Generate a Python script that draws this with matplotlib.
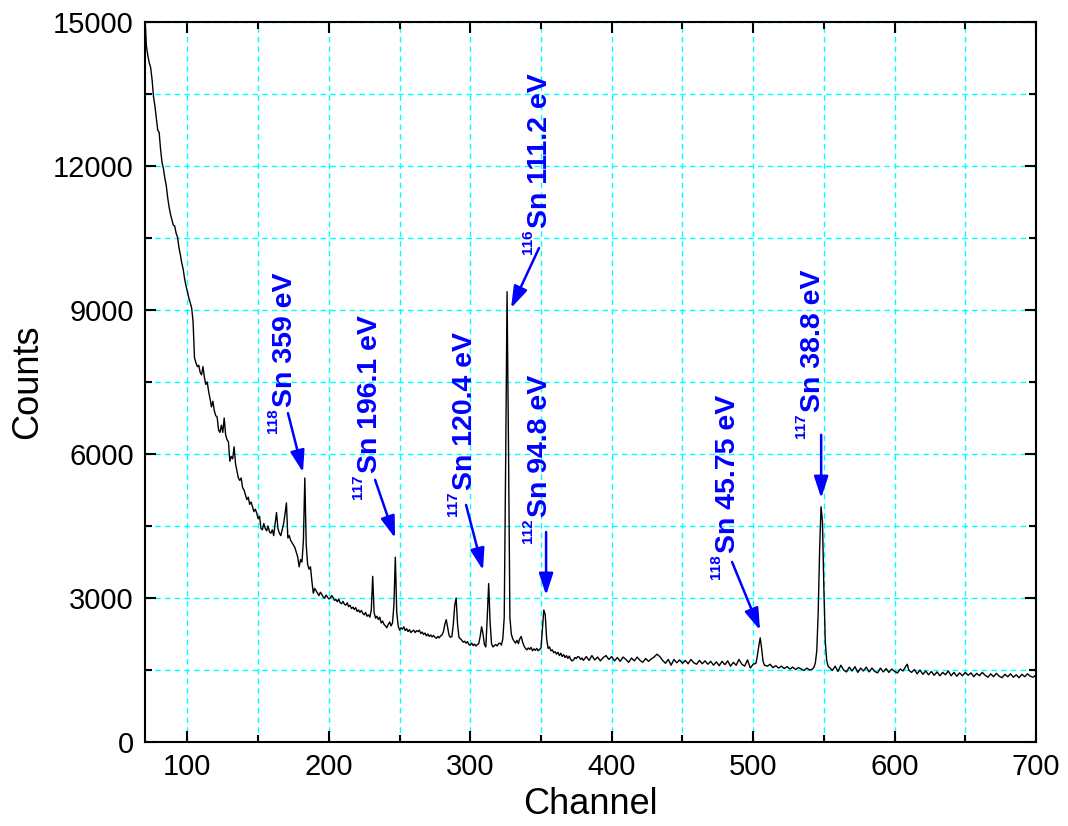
import matplotlib
matplotlib.use("Agg")
import matplotlib.pyplot as plt
from matplotlib.ticker import MultipleLocator

# spectrum
channel = [
    70, 71, 72, 73, 74, 75, 76, 77, 78, 79, 80, 81, 82, 83, 84, 85, 86, 87, 88, 89,
    90, 91, 92, 93, 94, 95, 96, 97, 98, 99, 100, 101, 102, 103, 104,
    105, 106, 107, 108, 109, 110, 111, 112, 113, 114, 115, 116, 117, 118, 119,
    120, 121, 122, 123, 124, 125, 126, 127, 128, 129, 130, 131, 132, 133, 134,
    135, 136, 137, 138, 139, 140, 141, 142, 143, 144, 145, 146, 147, 148, 149,
    150, 151, 152, 153, 154, 155, 156, 157, 158, 159, 160, 161, 162, 163, 164,
    165, 166, 167, 168, 169, 170, 171, 172, 173, 174, 175, 176, 177, 178, 179,
    180, 181, 182, 183, 184, 185, 186, 187, 188, 189, 190,
    191, 192, 193, 194, 195, 196, 197, 198, 199, 200, 201, 202, 203, 204, 205,
    206, 207, 208, 209, 210, 211, 212, 213, 214, 215, 216, 217, 218, 219, 220,
    221, 222, 223, 224, 225, 226, 227, 228, 229, 230, 231, 232, 233, 234, 235,
    236, 237, 238, 239, 240, 241, 242, 243, 244, 245, 246, 247, 248, 249, 250,
    251, 252, 253, 254, 255, 256, 257, 258, 259, 260,
    261, 262, 263, 264, 265, 266, 267, 268, 269, 270, 271, 272, 273, 274, 275,
    276, 277, 278, 279, 280, 281, 282, 283, 284, 285, 286, 287, 288, 289, 290,
    291, 292, 293, 294, 295, 296, 297, 298, 299, 300, 301, 302, 303, 304, 305,
    306, 307, 308, 309, 310, 311, 312, 313, 314, 315, 316, 317, 318, 319, 320,
    321, 322, 323, 324, 325, 326, 327, 328, 329, 330,
    331, 332, 333, 334, 335, 336, 337, 338, 339, 340, 341, 342, 343, 344, 345,
    346, 347, 348, 349, 350, 351, 352, 353, 354, 355, 356, 357, 358, 359, 360,
    361, 362, 363, 364, 365, 366, 367, 368, 369, 370, 371, 372, 373, 374, 375,
    376, 377, 378, 379, 380,
    382, 384, 386, 388, 390, 392, 394, 396, 398, 400, 402, 404, 406, 408, 410,
    412, 414, 416, 418, 420, 422, 424, 426, 428, 430, 432, 434, 436, 438, 440,
    442, 444, 446, 448, 450, 452, 454, 456, 458, 460, 462, 464, 466, 468, 470,
    472, 474, 476, 478, 480, 482, 484, 486, 488, 490, 492, 494, 496, 498, 500,
    502, 503, 504, 505, 506, 507, 508, 510, 512, 514, 516, 518, 520, 522, 524,
    526, 528, 530, 532, 534, 536, 538, 540, 542, 543, 544, 545, 546, 547, 548,
    549, 550, 551, 552, 553, 554, 556, 558, 560, 562, 564, 566, 568, 570, 572,
    574, 576, 578, 580, 582, 584, 586, 588, 590, 592, 594, 596, 598, 600, 602,
    604, 606, 608, 609, 610, 612, 614, 616, 618, 620, 622, 624, 626, 628, 630,
    632, 634, 636, 638, 640, 642, 644, 646, 648, 650, 652, 654, 656, 658, 660,
    662, 664, 666, 668, 670, 672, 674, 676, 678, 680, 682, 684, 686, 688, 690,
    692, 694, 696, 698, 700,
]
counts = [
    15100, 14500, 14300, 14150, 14050, 13800, 13450, 13250, 13000, 12750, 12700, 12350,
    12080, 11950, 11750, 11600, 11350, 11150, 11000, 10880,
    10770, 10750, 10600, 10520, 10300, 10150, 9980, 9850, 9650, 9500, 9380, 9250, 9150,
    9040, 8750,
    8000, 7900, 7820, 7850, 7700, 7650, 7820, 7600, 7450, 7500, 7300, 7150, 6980, 7100, 6900,
    6800, 6770, 6500, 6450, 6600, 6450, 6750, 6400, 6300, 6250, 5850, 5950, 5900, 6150, 5800,
    5650, 5500, 5450, 5500, 5300, 5250, 5150, 5050, 5100, 4950, 5000, 4900, 4800, 4850, 4770,
    4650, 4700, 4450, 4420, 4550, 4450, 4400, 4500, 4380, 4350, 4420, 4300, 4550, 4780, 4450,
    4350, 4300, 4420, 4550, 4750, 4980, 4250, 4300, 4200, 4150, 4100, 4050, 3950, 3850, 3650,
    3800, 3750, 4200, 5500, 4100, 3700, 3600, 3650, 3350, 3100, 3200,
    3150, 3100, 3050, 3120, 3080, 3020, 3000, 3060, 3020, 2980, 3000, 3050, 3010, 2950, 2970,
    2920, 2980, 2900, 2880, 2930, 2870, 2850, 2900, 2820, 2850, 2780, 2810, 2760, 2800, 2720,
    2750, 2700, 2740, 2680, 2650, 2700, 2620, 2650, 2600, 2750, 3450, 2700, 2580, 2620, 2550,
    2600, 2480, 2520, 2450, 2420, 2380, 2450, 2500, 2420, 2480, 2850, 3850, 2700, 2420, 2330,
    2380, 2350, 2400, 2320, 2360, 2300, 2340, 2280, 2310, 2330,
    2280, 2320, 2300, 2330, 2260, 2290, 2240, 2270, 2210, 2250, 2200, 2230, 2190, 2220, 2180,
    2160, 2200, 2170, 2210, 2230, 2300, 2450, 2550, 2380, 2220, 2180, 2200, 2450, 2850, 3000,
    2450, 2180, 2150, 2120, 2080, 2100, 2060, 2090, 2030, 2020, 2060, 2010, 2040, 2000, 2030,
    2050, 2200, 2400, 2250, 2030, 1980, 2600, 3300, 2500, 2050, 1980, 2010, 2030, 2000, 2050,
    2060, 2020, 2150, 2600, 5800, 9380, 6200, 2600, 2250, 2150,
    2100, 2060, 2120, 2050, 2150, 2200, 2080, 2000, 1950, 1920, 1960, 1930, 1970, 1900, 1940,
    1910, 1950, 1900, 1930, 1960, 2350, 2750, 2650, 2150, 1950, 1980, 1900, 1920, 1860, 1880,
    1830, 1870, 1800, 1850, 1780, 1820, 1760, 1800, 1740, 1790, 1720, 1690, 1710, 1760, 1740,
    1780, 1770, 1720, 1750, 1700,
    1780, 1700, 1800, 1710, 1770, 1690, 1760, 1800, 1720, 1780, 1690, 1760, 1680, 1770, 1720,
    1660, 1750, 1690, 1770, 1700, 1660, 1740, 1680, 1730, 1770, 1830, 1780, 1700, 1640, 1720,
    1600, 1720, 1650, 1710, 1640, 1700, 1630, 1720, 1650, 1620, 1700, 1630, 1690, 1620, 1680,
    1600, 1670, 1590, 1680, 1610, 1690, 1580, 1660, 1600, 1720, 1620, 1580, 1710, 1540, 1620,
    1640, 1800, 2000, 2170, 1950, 1680, 1600, 1580, 1620, 1550, 1590, 1540, 1580, 1530, 1570,
    1520, 1560, 1510, 1550, 1520, 1490, 1540, 1500, 1520, 1560, 1650, 1900, 2700, 4000, 4900,
    4600, 3200, 2100, 1700, 1580, 1550, 1490, 1580, 1470, 1600, 1500, 1460, 1560, 1480, 1570,
    1450, 1540, 1480, 1560, 1460, 1540, 1470, 1440, 1540, 1460, 1530, 1450, 1520, 1470, 1440,
    1520, 1480, 1580, 1620, 1500, 1450, 1510, 1420, 1500, 1410, 1480, 1400, 1470, 1390, 1460,
    1380, 1450, 1400, 1480, 1380, 1450, 1370, 1440, 1380, 1450, 1390, 1440, 1360, 1430, 1380,
    1450, 1390, 1350, 1420, 1360, 1430, 1370, 1340, 1410, 1360, 1420, 1350, 1400, 1340, 1410,
    1360, 1420, 1370, 1350, 1400,
]

# peak labels
masses = ["118", "117", "117", "116", "112", "118", "117"]
energies = ["Sn 359 eV", "Sn 196.1 eV", "Sn 120.4 eV", "Sn 111.2 eV",
            "Sn 94.8 eV", "Sn 45.75 eV", "Sn 38.8 eV"]

# layout of the labels (data coords): text start, arrow tail, arrow head
text_pos = [(174, 6980), (234.1, 5600), (301.3, 5250), (354.3, 10700),
            (354.3, 4690), (487.3, 3940), (547.4, 6875)]
arrow_tail = [(171.1, 6850), (232.7, 5460), (297, 4940), (348.6, 10290),
              (353.6, 4375), (485.1, 3750), (548.1, 6400)]
arrow_head = [(181.7, 5620), (246.8, 4250), (309, 3580), (328.8, 9040),
              (353.6, 3060), (504.9, 2330), (548.1, 5080)]

blue = "#0000FF"

plt.rcParams["font.family"] = ["Liberation Sans", "DejaVu Sans"]

fig = plt.figure(figsize=(10.68, 8.26), dpi=100)
ax = fig.add_axes([145 / 1068, 84 / 826, 891 / 1068, 720 / 826])

ax.plot(channel, counts, color="black", lw=1.0, zorder=3)

ax.set_xlim(70, 700)
ax.set_ylim(0, 15000)
ax.xaxis.set_major_locator(MultipleLocator(100))
ax.xaxis.set_minor_locator(MultipleLocator(50))
ax.yaxis.set_major_locator(MultipleLocator(3000))
ax.yaxis.set_minor_locator(MultipleLocator(1500))

ax.set_axisbelow(True)
ax.grid(which="both", color="#00FFFF", ls=(0, (4, 3)), lw=1.0)

ax.tick_params(which="both", direction="in", top=True, right=True, width=1.5)
ax.tick_params(which="major", length=8, labelsize=21, pad=8)
ax.tick_params(which="minor", length=5)
for s in ax.spines.values():
    s.set_linewidth(1.5)

ax.set_xlabel("Channel", fontsize=26, labelpad=4)
ax.set_ylabel("Counts", fontsize=26, labelpad=6)

for m, e, tp, ta, hd in zip(masses, energies, text_pos, arrow_tail, arrow_head):
    ax.text(tp[0], tp[1], e, rotation=90, rotation_mode="anchor",
            ha="left", va="baseline", color=blue, fontsize=20.5,
            fontweight="bold", zorder=5)
    ax.annotate(m, xy=tp, xytext=(-11, -1), textcoords="offset points",
                rotation=90, rotation_mode="anchor", ha="right",
                va="baseline", color=blue, fontsize=11, fontweight="bold",
                zorder=5)
    ax.annotate("", xy=hd, xytext=ta,
                arrowprops=dict(arrowstyle="-|>,head_length=0.55,head_width=0.18",
                                color=blue, lw=1.8, mutation_scale=24,
                                shrinkA=0, shrinkB=0),
                zorder=5)

fig.savefig("out.png", dpi=100)
